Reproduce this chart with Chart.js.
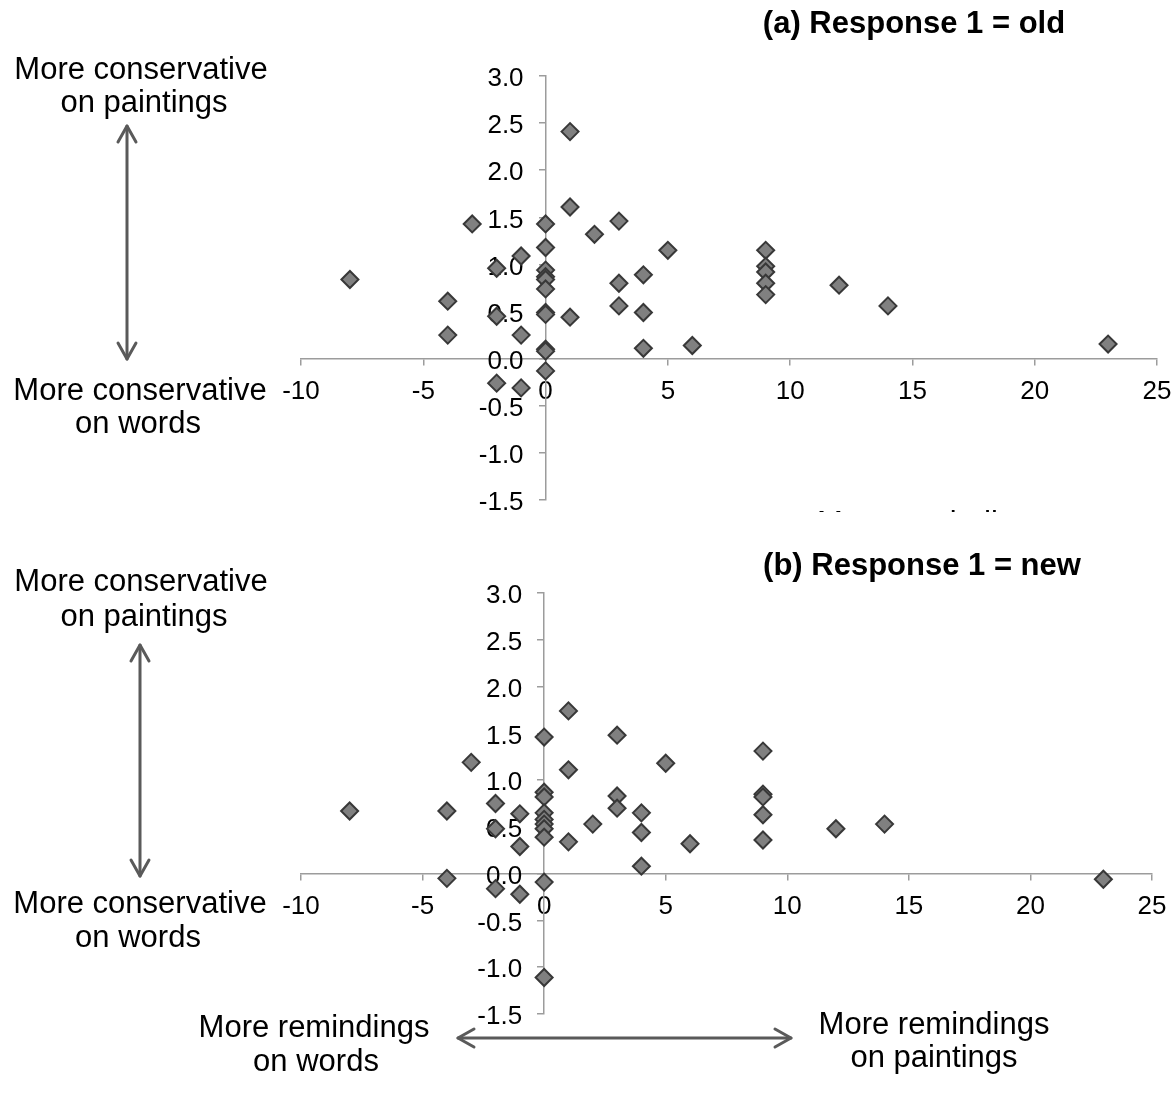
<!DOCTYPE html>
<html>
<head>
<meta charset="utf-8">
<script src="https://cdn.jsdelivr.net/npm/chart.js@4/dist/chart.umd.min.js"></script>
<style>
  html, body { margin: 0; padding: 0; background: #ffffff; }
  #wrap { position: relative; width: 1176px; height: 1105px; overflow: hidden; }
  canvas { position: absolute; left: 0; }
  #panelA { top: 0; }
  #panelB { top: 516px; }
</style>
</head>
<body>
<div id="wrap">
  <canvas id="panelA" width="1200" height="560"></canvas>
  <canvas id="panelB" width="1200" height="589"></canvas>
</div>
<script>
// Axis ticks shared by both panels
const xTickValues = [-10, -5, 0, 5, 10, 15, 20, 25];
const xTickLabels = ['-10', '-5', '0', '5', '10', '15', '20', '25'];
const yTickValues = [-1.5, -1, -0.5, 0, 0.5, 1, 1.5, 2, 2.5, 3];
const yTickLabels = ['-1.5', '-1.0', '-0.5', '0.0', '0.5', '1.0', '1.5', '2.0', '2.5', '3.0'];

// (a) Response 1 = old: reminding difference (x) vs. criterion difference (y)
const oldRemindings = [-8, -4, -4, -3, -2, -2, -2, -1, -1, -1,
                       0, 0, 0, 0, 0, 0, 0, 0, 0, 0, 0,
                       1, 1, 1, 2, 3, 3, 3, 4, 4, 4, 5, 6,
                       9, 9, 9, 9, 9, 12, 14, 23];
const oldCriterion = [0.84, 0.61, 0.25, 1.43, 0.96, 0.45, -0.26, 1.09, 0.25, -0.31,
                      1.43, 1.18, 0.94, 0.87, 0.84, 0.74, 0.49, 0.47, 0.10, 0.08, -0.13,
                      2.41, 1.61, 0.44, 1.32, 1.46, 0.80, 0.56, 0.89, 0.49, 0.11, 1.15, 0.14,
                      1.15, 0.98, 0.92, 0.80, 0.68, 0.78, 0.56, 0.155];

// (b) Response 1 = new
const newRemindings = [-8, -4, -4, -3, -2, -2, -2, -1, -1, -1,
                       0, 0, 0, 0, 0, 0, 0, 0, 0, 0,
                       1, 1, 1, 2, 3, 3, 3, 4, 4, 4, 5, 6,
                       9, 9, 9, 9, 9, 12, 14, 23];
const newCriterion = [0.67, 0.67, -0.05, 1.19, 0.75, 0.48, -0.16, 0.64, 0.29, -0.22,
                      1.46, 0.87, 0.82, 0.65, 0.58, 0.53, 0.48, 0.39, -0.09, -1.11,
                      1.74, 1.11, 0.34, 0.53, 1.48, 0.83, 0.70, 0.65, 0.44, 0.08, 1.18, 0.32,
                      1.31, 0.85, 0.82, 0.63, 0.36, 0.48, 0.53, -0.06];

const FONT = '"Liberation Sans", Arial, Helvetica, sans-serif';
const AXIS_GREY = '#9c9c9c';
const ARROW_GREY = '#5a5a5a';
const Y_LABEL_GAP = 22;   // distance from the vertical axis to the right edge of its labels
const Y_LABEL_DROP = 3;   // labels sit slightly below their tick marks

// The vertical axis crosses at x = 0; push its labels away from the axis line
const yLabelGapPlugin = {
  id: 'yLabelGap',
  beforeDraw(chart) {
    const items = chart.scales.y.getLabelItems();
    if (items._shifted) return;
    items.forEach(it => {
      it.options.translation[0] -= Y_LABEL_GAP;
      it.options.translation[1] += Y_LABEL_DROP;
    });
    items._shifted = true;
  }
};

// Free-standing captions and arrows painted on top of each panel
const notesPlugin = {
  id: 'notes',
  afterDraw(chart, args, opts) {
    const ctx = chart.ctx;
    ctx.save();
    (opts.texts || []).forEach(t => {
      ctx.save();
      if (t.clipBottom !== undefined) {
        ctx.beginPath();
        ctx.rect(0, 0, chart.width, t.clipBottom);
        ctx.clip();
      }
      ctx.font = (t.bold ? 'bold ' : '') + t.size + 'px ' + FONT;
      ctx.fillStyle = '#000000';
      ctx.textAlign = t.align || 'center';
      ctx.textBaseline = t.baseline || 'middle';
      ctx.fillText(t.text, t.x, t.y);
      ctx.restore();
    });
    (opts.arrows || []).forEach(a => {
      ctx.strokeStyle = ARROW_GREY;
      ctx.lineWidth = 3;
      ctx.lineCap = 'round';
      ctx.lineJoin = 'round';
      ctx.beginPath();
      ctx.moveTo(a.x1, a.y1);
      ctx.lineTo(a.x2, a.y2);
      ctx.stroke();
      const len = Math.hypot(a.x2 - a.x1, a.y2 - a.y1);
      const ux = (a.x2 - a.x1) / len, uy = (a.y2 - a.y1) / len;
      const heads = [[a.x1, a.y1, ux, uy], [a.x2, a.y2, -ux, -uy]];
      heads.forEach(([hx, hy, dx, dy]) => {
        const back = 16, side = 9;
        ctx.beginPath();
        ctx.moveTo(hx + dx * back - dy * side, hy + dy * back + dx * side);
        ctx.lineTo(hx, hy);
        ctx.lineTo(hx + dx * back + dy * side, hy + dy * back - dx * side);
        ctx.stroke();
      });
    });
    ctx.restore();
  }
};

function scatterPanel(canvasId, xs, ys, padding, notes) {
  const points = xs.map((x, i) => ({ x: x, y: ys[i] }));
  return new Chart(document.getElementById(canvasId), {
    type: 'scatter',
    data: {
      datasets: [{
        data: points,
        pointStyle: 'rectRot',
        pointRadius: 8.5,
        backgroundColor: '#808080',
        borderColor: '#383838',
        borderWidth: 2
      }]
    },
    options: {
      responsive: false,
      animation: false,
      devicePixelRatio: 1,
      events: [],
      layout: { padding: padding },
      plugins: {
        legend: { display: false },
        tooltip: { enabled: false },
        notes: notes
      },
      scales: {
        x: {
          type: 'linear',
          min: -10,
          max: 25,
          position: { y: 0 },
          afterBuildTicks: s => { s.ticks = xTickValues.map(v => ({ value: v })); },
          ticks: {
            callback: v => xTickLabels[xTickValues.indexOf(v)],
            color: '#000000',
            font: { family: FONT, size: 26 },
            padding: 12,
            maxRotation: 0,
            autoSkip: false
          },
          grid: { drawOnChartArea: false, drawTicks: true, tickLength: 6, color: AXIS_GREY, lineWidth: 1.5 },
          border: { display: true, color: AXIS_GREY, width: 1.5 }
        },
        y: {
          type: 'linear',
          min: -1.5,
          max: 3,
          position: { x: 0 },
          afterBuildTicks: s => { s.ticks = yTickValues.map(v => ({ value: v })); },
          ticks: {
            callback: v => yTickLabels[yTickValues.indexOf(v)],
            color: '#000000',
            font: { family: FONT, size: 26 },
            autoSkip: false
          },
          grid: { drawOnChartArea: false, drawTicks: true, tickLength: 6, color: AXIS_GREY, lineWidth: 1.5 },
          border: { display: true, color: AXIS_GREY, width: 1.5 }
        }
      }
    },
    plugins: [yLabelGapPlugin, notesPlugin]
  });
}

// Panel (a): canvas starts at page y = 0
scatterPanel('panelA', oldRemindings, oldCriterion,
  { left: 301, right: 1200 - 1157, top: 76, bottom: 560 - 500 },
  {
    texts: [
      { text: '(a) Response 1 = old', x: 914, y: 24, size: 31, bold: true },
      { text: 'More conservative', x: 141, y: 70, size: 31 },
      { text: 'on paintings', x: 144, y: 103, size: 31 },
      { text: 'More conservative', x: 140, y: 391, size: 31 },
      { text: 'on words', x: 138, y: 424, size: 31 },
      { text: 'More remindings', x: 817, y: 533, size: 31, align: 'left', baseline: 'alphabetic', clipBottom: 512 }
    ],
    arrows: [
      { x1: 127, y1: 126, x2: 127, y2: 359 }
    ]
  });

// Panel (b): canvas starts at page y = 516
const B = 516;
scatterPanel('panelB', newRemindings, newCriterion,
  { left: 301, right: 1200 - 1152, top: 593 - B, bottom: 589 - (1014 - B) },
  {
    texts: [
      { text: '(b) Response 1 = new', x: 922, y: 566 - B, size: 31, bold: true },
      { text: 'More conservative', x: 141, y: 582 - B, size: 31 },
      { text: 'on paintings', x: 144, y: 617 - B, size: 31 },
      { text: 'More conservative', x: 140, y: 904 - B, size: 31 },
      { text: 'on words', x: 138, y: 938 - B, size: 31 },
      { text: 'More remindings', x: 314, y: 1028 - B, size: 31 },
      { text: 'on words', x: 316, y: 1062 - B, size: 31 },
      { text: 'More remindings', x: 934, y: 1025 - B, size: 31 },
      { text: 'on paintings', x: 934, y: 1058 - B, size: 31 }
    ],
    arrows: [
      { x1: 140, y1: 645 - B, x2: 140, y2: 876 - B },
      { x1: 458, y1: 1038 - B, x2: 791, y2: 1038 - B }
    ]
  });
</script>
</body>
</html>
